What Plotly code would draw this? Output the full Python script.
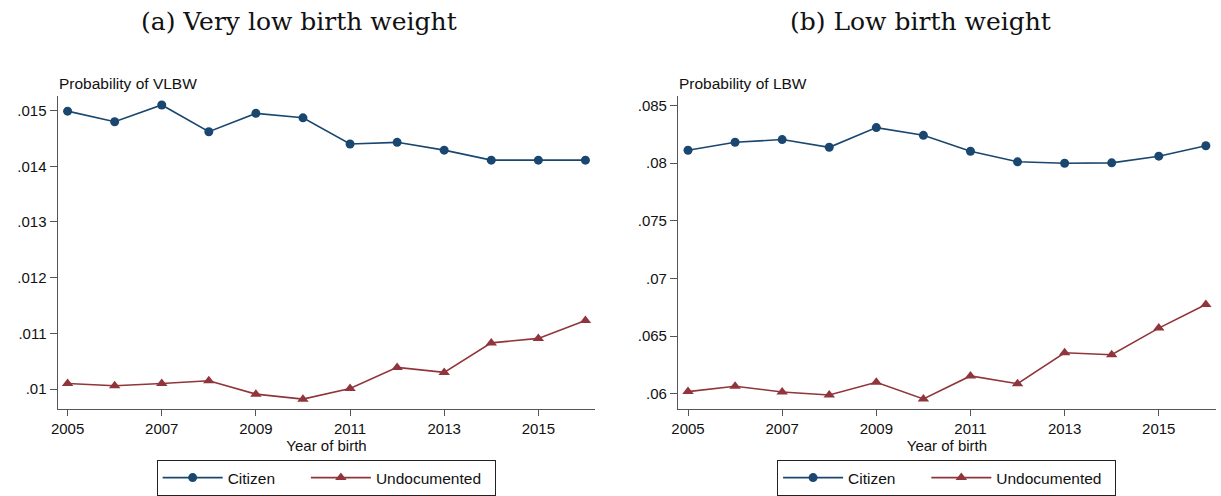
import plotly.graph_objects as go

years = [2005, 2006, 2007, 2008, 2009, 2010, 2011, 2012, 2013, 2014, 2015, 2016]

vlbw_citizen = [0.01499, 0.01480, 0.01510, 0.01462, 0.01495, 0.01487,
                0.01440, 0.01443, 0.01429, 0.01411, 0.01411, 0.01411]
vlbw_undoc = [0.01010, 0.01006, 0.01010, 0.01015, 0.00991, 0.00982,
              0.01001, 0.01039, 0.01030, 0.01083, 0.01091, 0.01123]

lbw_citizen = [0.08112, 0.08182, 0.08205, 0.08138, 0.08309, 0.08242,
               0.08104, 0.08012, 0.08000, 0.08003, 0.08061, 0.08151]
lbw_undoc = [0.06018, 0.06064, 0.06015, 0.05989, 0.06099, 0.05955,
             0.06154, 0.06087, 0.06355, 0.06338, 0.06569, 0.06774]

x_ticks = [2005, 2007, 2009, 2011, 2013, 2015]
vlbw_ticks = [0.010, 0.011, 0.012, 0.013, 0.014, 0.015]
vlbw_ticktext = [".01", ".011", ".012", ".013", ".014", ".015"]
lbw_ticks = [0.060, 0.065, 0.070, 0.075, 0.080, 0.085]
lbw_ticktext = [".06", ".065", ".07", ".075", ".08", ".085"]

NAVY = "#1a476f"
MAROON = "#90353b"
AXIS = "#555555"
SANS = "Liberation Sans, Arial, sans-serif"
SERIF = "DejaVu Serif, Liberation Serif, serif"
NB = "\u00a0"

fig = go.Figure()

def add_pair(xa, ya, cit, und, legend):
    fig.add_trace(go.Scatter(
        x=years, y=cit, name="Citizen" + NB * 6, xaxis=xa, yaxis=ya, legend=legend,
        mode="lines+markers", line=dict(color=NAVY, width=1.6),
        marker=dict(symbol="circle", size=9, color=NAVY)))
    fig.add_trace(go.Scatter(
        x=years, y=und, name="Undocumented" + NB * 2, xaxis=xa, yaxis=ya, legend=legend,
        mode="lines+markers", line=dict(color=MAROON, width=1.6),
        marker=dict(symbol="triangle-up", size=10, color=MAROON)))

add_pair("x", "y", vlbw_citizen, vlbw_undoc, "legend")
add_pair("x2", "y2", lbw_citizen, lbw_undoc, "legend2")

W, H = 1221, 496
dom_y = [1 - 411 / H, 1 - 96.7 / H]

xcommon = dict(tickvals=x_ticks, ticks="outside", ticklen=6, tickcolor=AXIS,
               showline=True, linecolor=AXIS, linewidth=1.3, showgrid=False,
               zeroline=False, tickfont=dict(family=SANS, size=15, color="#111"),
               title=dict(text="Year of birth", standoff=0,
                          font=dict(family=SANS, size=15, color="#111")),
               range=[2004.79, 2016.21])
ycommon = dict(ticks="outside", ticklen=7, tickcolor=AXIS, showline=True,
               linecolor=AXIS, linewidth=1.3, showgrid=False, zeroline=False,
               tickfont=dict(family=SANS, size=15, color="#111"), domain=dom_y)

legcommon = dict(orientation="h", xanchor="center", y=1 - 462 / H,
                 yanchor="top", bordercolor="#222", borderwidth=1,
                 itemwidth=60, font=dict(family=SANS, size=15.5, color="#111"),
                 bgcolor="white")

fig.update_layout(
    width=W, height=H, margin=dict(l=0, r=0, t=0, b=0),
    paper_bgcolor="white", plot_bgcolor="white",
    xaxis=dict(domain=[51 / W, 591.7 / W], anchor="y", **xcommon),
    yaxis=dict(anchor="x", range=[0.009637, 0.015256], tickvals=vlbw_ticks,
               ticktext=vlbw_ticktext, **ycommon),
    xaxis2=dict(domain=[675 / W, 1215.7 / W], anchor="y2", **xcommon),
    yaxis2=dict(anchor="x2", range=[0.058642, 0.085804], tickvals=lbw_ticks,
                ticktext=lbw_ticktext, **ycommon),
    legend=dict(x=321 / W, **legcommon),
    legend2=dict(x=945 / W, **legcommon),
    annotations=[
        dict(text="(a) Very low birth weight", x=294 / W, y=1 - 22 / H,
             xref="paper", yref="paper", showarrow=False,
             xanchor="center", yanchor="middle",
             font=dict(family=SERIF, size=25, color="#111")),
        dict(text="(b) Low birth weight", x=919 / W, y=1 - 22 / H,
             xref="paper", yref="paper", showarrow=False,
             xanchor="center", yanchor="middle",
             font=dict(family=SERIF, size=25, color="#111")),
        dict(text="Probability of VLBW", x=50 / W, y=1 - 84 / H,
             xref="paper", yref="paper", showarrow=False, xanchor="left",
             yanchor="middle", font=dict(family=SANS, size=15.5, color="#111")),
        dict(text="Probability of LBW", x=674 / W, y=1 - 84 / H,
             xref="paper", yref="paper", showarrow=False, xanchor="left",
             yanchor="middle", font=dict(family=SANS, size=15.5, color="#111")),
    ],
)

fig.write_html("out.html")
